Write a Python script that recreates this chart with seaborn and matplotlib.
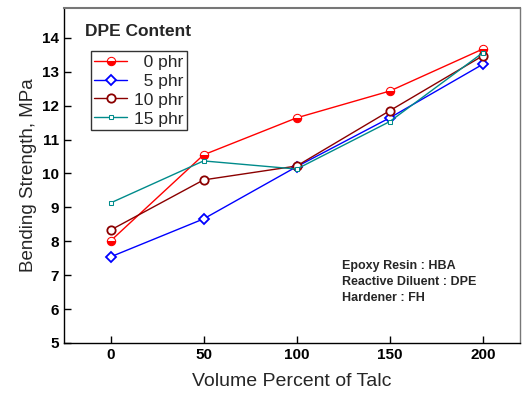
import matplotlib
matplotlib.use("Agg")
import matplotlib.pyplot as plt
import seaborn as sns
import pandas as pd

talc = [0, 50, 100, 150, 200]
phr0 = [8.01, 10.55, 11.64, 12.43, 13.67]
phr5 = [7.54, 8.66, 10.20, 11.64, 13.22]
phr10 = [8.33, 9.81, 10.22, 11.85, 13.47]
phr15 = [9.13, 10.37, 10.13, 11.53, 13.56]
labels = ["\u20070 phr", "\u20075 phr", "10 phr", "15 phr"]

sns.set_style("ticks")
plt.rcParams['font.family'] = ['Liberation Sans', 'DejaVu Sans']

fig = plt.figure(figsize=(5.22, 3.96), dpi=100)
ax = fig.add_axes([64/522, 53/396, (520-64)/522, (343-8)/396])

styles = [
    dict(color="red", marker="o", markersize=6, fillstyle="bottom",
         markerfacecolor="red", markerfacecoloralt="white", markeredgecolor="red"),
    dict(color="blue", marker="D", markersize=5, markerfacecolor="white", markeredgecolor="blue",
         markeredgewidth=1.3),
    dict(color="#8b0000", marker="o", markersize=6, markerfacecolor="white", markeredgecolor="#8b0000",
         markeredgewidth=1.3),
    dict(color="#008b8b", marker="s", markersize=3.5, markerfacecolor="white", markeredgecolor="#008b8b"),
]
series = [phr0, phr5, phr10, phr15]
for vals, lab, st in zip(series, labels, styles):
    df = pd.DataFrame({"talc": talc, "val": vals})
    sns.lineplot(data=df, x="talc", y="val", ax=ax, label=lab, linewidth=1.0, **st)

ax.set_xlim(-25, 220)
ax.set_ylim(5, 14.88)
ax.set_xticks(talc)
ax.set_yticks(range(5, 15))
ax.tick_params(direction="in", length=5, width=1, labelsize=11, colors="black")
for t in ax.get_xticklabels() + ax.get_yticklabels():
    t.set_fontweight("bold")
for s in ax.spines.values():
    s.set_visible(True)
    s.set_color("black")
    s.set_linewidth(1.0)
ax.spines["top"].set_color("#777777")
ax.spines["top"].set_linewidth(1.5)
ax.spines["right"].set_color("#777777")

ax.set_xlabel("Volume Percent of Talc", fontsize=14, labelpad=8)
ax.set_ylabel("Bending Strength, MPa", fontsize=13.5, labelpad=4)

leg = ax.legend(loc="upper left", bbox_to_anchor=((91-64)/456, (343-51)/335),
                frameon=True, fancybox=False, edgecolor="black", fontsize=12.5,
                handlelength=1.9, handletextpad=0.35, borderpad=0.2, labelspacing=0.22,
                borderaxespad=0)
leg.get_frame().set_linewidth(1.0)

ax.text((85-64)/456, (343-32)/335, "DPE Content", transform=ax.transAxes,
        fontsize=12.5, fontweight="bold", va="center", ha="left")

ax.text((342-64)/456, (343-282)/335, "Epoxy Resin : HBA\nReactive Diluent : DPE\nHardener : FH",
        transform=ax.transAxes, fontsize=9, fontweight="bold", va="center", ha="left",
        linespacing=1.4)

fig.savefig("out.png", dpi=100)
